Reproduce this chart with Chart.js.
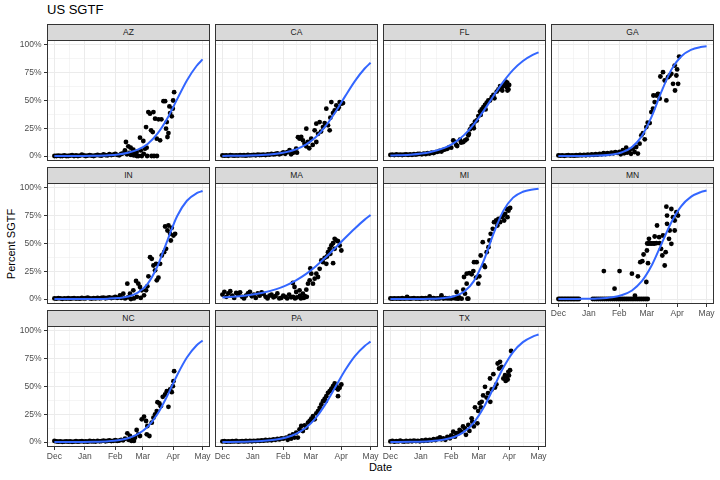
<!DOCTYPE html>
<html>
<head>
<meta charset="utf-8">
<script src="https://cdn.jsdelivr.net/npm/chart.js@4.4.4/dist/chart.umd.min.js"></script>
<style>
  html, body { margin: 0; padding: 0; background: #fff; }
  #fig { position: relative; width: 720px; height: 480px; overflow: hidden;
         font-family: "Liberation Sans", Arial, sans-serif; color: #000; }
  #fig canvas { position: absolute; }
  .strip { position: absolute; box-sizing: border-box; background: #d9d9d9;
           border: 1px solid #333; color: #1a1a1a; font-size: 8.5px;
           line-height: 15px; text-align: center; }
  #title { position: absolute; left: 47px; top: 2px; font-size: 13px; line-height: 15px; }
  #xlab { position: absolute; left: 330px; width: 101px; top: 461px; font-size: 11px;
          line-height: 13px; text-align: center; }
  #ylab { position: absolute; left: -49px; top: 237px; width: 120px; height: 14px;
          font-size: 11px; line-height: 14px; text-align: center; transform: rotate(-90deg); }
</style>
</head>
<body>
<div id="fig">
  <div id="title">US SGTF</div>
  <div id="ylab">Percent SGTF</div>
  <div id="xlab">Date</div>
</div>
<script>
/* ── Dados: dias desde 1 dez 2020, percentual SGTF ── */
const STATES = ['AZ', 'CA', 'FL', 'GA', 'IN', 'MA', 'MI', 'MN', 'NC', 'PA', 'TX'];
const MONTH_DAYS = [0, 31, 62, 90, 121, 151];
const MONTH_NAMES = ['Dec', 'Jan', 'Feb', 'Mar', 'Apr', 'May'];
const PCT_TICKS = [0, 25, 50, 75, 100];

/* dias onde a curva logística ajustada foi lida */
const CURVE_DAY = [0, 20, 40, 55, 65, 75, 85, 95, 105, 115, 125, 135, 145, 151];

const AZ_FIT = [0.01, 0.06, 0.24, 0.7, 1.4, 2.9, 5.7, 10.9, 20.1, 33.8, 51.0, 68.1, 81.3, 87.0];
const CA_FIT = [0.08, 0.26, 0.83, 2.0, 3.5, 6.0, 10.2, 16.9, 26.7, 39.4, 53.7, 67.5, 78.8, 84.0];
const FL_FIT = [0.4, 1.18, 3.4, 7.3, 11.9, 18.8, 28.5, 40.6, 54.0, 66.8, 77.6, 85.6, 91.1, 93.4];
const GA_FIT = [0.01, 0.06, 0.35, 1.4, 3.4, 8.0, 17.9, 35.4, 57.9, 77.6, 89.7, 95.6, 98.2, 98.9];
const IN_FIT = [0, 0.01, 0.08, 0.33, 0.86, 2.2, 5.7, 13.7, 29.5, 52.4, 74.5, 88.5, 95.3, 97.3];
const MA_FIT = [1.34, 2.7, 5.4, 8.9, 12.3, 16.8, 22.4, 29.3, 37.3, 46.0, 55.0, 63.6, 71.5, 75.6];
const MI_FIT = [0, 0.03, 0.21, 0.95, 2.5, 6.6, 16.1, 34.3, 58.7, 79.4, 91.3, 96.6, 98.7, 99.3];
const MN_FIT = [0.02, 0.09, 0.47, 1.6, 3.6, 7.7, 16.0, 30.1, 49.5, 68.9, 83.5, 92.0, 96.3, 97.7];
const NC_FIT = [0.01, 0.06, 0.26, 0.78, 1.6, 3.4, 7.0, 13.7, 25.2, 41.6, 60.1, 76.1, 87.1, 91.4];
const PA_FIT = [0.07, 0.24, 0.86, 2.2, 4.0, 7.3, 12.8, 21.6, 34.1, 49.3, 64.6, 77.4, 86.5, 90.4];
const TX_FIT = [0.04, 0.16, 0.72, 2.2, 4.5, 9.1, 17.5, 31.0, 48.7, 66.8, 81.0, 90.0, 95.0, 96.8];

/* leituras [dia, %] */
const AZ_PTS = [[0,0],[2,0],[4,0.3],[6,0],[8,0],[10,0.5],[12,0],[14,0],[16,0.3],[18,0.8],[20,0],[22,0.5],[24,0],[26,0.3],[28,1.2],[30,0.5],[32,0],[34,0.4],[36,0.8],[38,0.3],[40,0],[42,0.6],[44,1],[46,0.5],[48,0.3],[50,1.5],[52,0.8],[54,0.5],[56,1.6],[58,0.8],[60,1.2],[62,2],[64,1],[66,0.6],[68,1.8],[70,2.4],
  [71.9,5.1],[72.9,12.6],[74,1.5],[75.3,8.7],[76.3,2.7],[77.7,7.5],[78,1],[79,3],[80.4,5.7],[81,0.5],[82,2],[83.8,3.6],[84,0],[85.5,0],[87.2,16.5],[88,5],[89,0],[90.6,13.5],[91,2],[92.3,6.6],[93.4,26.1],[94,7.5],[94.5,0],[95.7,39.6],[97.4,38.1],[98.5,23.1],[99,0],[100.2,21.6],[100.9,39.6],[101.5,0],[102.6,33.6],[104.3,15.6],[104.5,0],[106,33],[107.7,14.1],[109,33],[111.1,49.4],[112.8,49.4],[113.8,24.6],[114.5,30.6],[115.2,17.1],[116.2,20.7],[117.2,44.7],[117.9,38.7],[119.6,35.7],[120.6,42.6],[121,50],[122,57.5]];
const CA_PTS = [[0,0.5],[2,0.3],[4,0.5],[6,0.2],[8,0.8],[10,0.5],[12,0.3],[14,0.6],[16,0.4],[18,0.8],[20,0.5],[22,0.7],[24,0.3],[26,0.9],[28,0.6],[30,0.8],[32,1],[34,0.7],[36,1.2],[38,0.9],[40,1],[42,1.3],[44,0.8],[46,1.5],[48,1.2],[50,2],[52,1.4],[54,1.8],[56,2.4],[58,1.5],[60,2.2],[62,3.2],[64,2],[66,3.5],
  [68.4,5.2],[70,1.5],[71.8,2.8],[73,4],[75.2,6.7],[76,3],[77,17],[78.6,15.6],[80.3,17.1],[82,14.1],[83.7,11.1],[85.4,8.7],[85.5,24.6],[87.1,12.6],[88.5,7],[90.5,15.6],[92,10],[94,23.1],[95.7,12.6],[95.7,29.1],[97.5,20],[99.1,30.6],[100.5,22],[102.5,26.1],[104.2,29.7],[105.9,42.6],[107.6,27.6],[109.3,23.1],[110,34.5],[111,48.6],[112.7,38.7],[114.4,41.1],[116.1,45.6],[117.8,42.6],[118.5,44],[119.5,48.6],[121.2,47.1],[122.9,47.7]];
const FL_PTS = [[0,1],[2,1.2],[4,0.8],[6,1.5],[8,1],[10,1.3],[12,0.9],[14,1.2],[16,1.5],[18,1],[20,1.4],[22,1.1],[24,1.6],[26,1.3],[28,1.8],[30,2],[32,1.5],[34,2.2],[36,1.8],[38,2.5],[40,2.2],[42,3],[44,2.6],[46,3.5],[48,3.8],[50,4.5],[52,4],[54,5.5],[56,6],[58,6.5],[60,8],[62,7.5],
  [64,14],[65.8,12.6],[67,10],[68,9],[70.9,14.7],[72,12],[74.3,12.6],[76,14],[77.7,15],[79.4,18.6],[80,20],[81.1,24],[82.8,27],[84.5,28],[85,25],[86.2,31],[88,32],[89.6,36],[91.3,40],[92,37],[93,42],[94.7,44],[96.4,46],[97,42],[98.1,48],[99.8,50],[101.5,50],[103.3,53],[105,55],[106,52],[108.4,58],[110.1,60],[111.8,63],[113.5,62],[114,59],[115.2,63],[116.9,65],[117.5,67],[118.6,62],[119,66],[119.3,59],[120.3,60],[121,64]];
const GA_PTS = [[0,0.5],[2,0.3],[4,0.6],[6,0.2],[8,0.5],[10,0.8],[12,0.4],[14,0.6],[16,0.3],[18,0.7],[20,0.5],[22,0.9],[24,0.6],[26,1],[28,0.7],[30,1.2],[32,0.8],[34,1.4],[36,1],[38,1.6],[40,1.2],[42,2],[44,1.5],[46,2.5],[48,1.8],[50,2.6],[52,2],[54,3],[56,2.5],[58,3.5],[60,2.8],
  [62.3,3.6],[63.5,1.5],[65.7,5.2],[67,2.5],[69.1,7.5],[70,3],[72.5,5.2],[74,2],[75.9,6.7],[77.6,3.6],[79.3,8.1],[81,2.2],[82.7,11.1],[84.5,18.6],[86.2,20.7],[88,15],[89.6,26.1],[91,30],[93,29.7],[94.7,39.6],[96.4,42.6],[96.8,54.5],[98.1,48.6],[99.8,54.5],[101.5,56],[103.2,51.6],[103.9,71.6],[106.6,75.5],[108.3,68],[110,50.1],[111.7,71],[113.4,72.5],[115.1,74],[116.8,65],[118.5,81.5],[118.8,59],[120.2,72.5],[121,78],[122,65],[123,89.6]];
const IN_PTS = [[0,0.5],[2,0.3],[4,0.8],[6,0.5],[8,0.2],[10,0.6],[12,0.4],[14,0.7],[16,0.3],[18,0.5],[20,0.8],[22,0.4],[24,0.6],[26,0.3],[28,0.9],[30,0.5],[32,0.7],[34,1.2],[36,0.6],[38,0.4],[40,0.8],[42,0.5],[44,1],[46,0.6],[48,0.9],[50,1.3],[52,0.7],[54,1],[56,1.5],[58,0.8],[60,1.2],[62,1.8],[64,1],
  [66.8,3.3],[68,1],[70.2,4.8],[72,0.5],[74.3,13.8],[75,1.5],[77,4.8],[78,0],[80.4,7.8],[81,0.5],[83.2,16.2],[84,2],[85.5,13.8],[87.2,10.8],[88,1],[89,7.8],[91.3,3.3],[93.4,7.8],[94.7,11.4],[95.8,20.4],[97.5,37.7],[99.2,36.2],[100.9,30.2],[102.6,25.8],[103.6,31.7],[104.3,16.8],[106,19.2],[107.7,31.7],[109.4,39.2],[111.8,42.2],[112.8,65.3],[113.8,45.2],[115.2,61.7],[116.2,66.2],[117.9,58.7],[118.6,52.7],[119.6,64.1],[121.3,57.2],[123,58.7]];
const MA_PTS = [[0,4],[2,6.5],[4,2],[6,5],[8,7],[10,3],[12,1],[14,5.5],[16,4],[18,6],[20,2],[22,0.5],[24,3],[26,5],[28,6.5],[30,2.5],[32,4],[34,1],[36,5],[38,3],[40,6],[42,4.5],[44,2],[46,0.5],[48,3],[50,4],[52,1.5],[54,2.5],[56,5],[58,0.5],[60,1],[62,3],[64,2],[66,0.5],[68,4],[70,1.5],
  [71.8,14.4],[72,2],[73.5,10.8],[74,0.5],[75.2,6.3],[76,1.5],[78.6,7.8],[79,3],[80,0.5],[82,4.8],[83,1],[84,2.5],[85.5,8.4],[86,2],[87.2,13.8],[88.9,16.8],[89.6,27.5],[90.6,22.8],[92.3,13.8],[94,18.3],[95.7,22.8],[97.4,19.8],[99.1,27.2],[100.8,34.7],[102.5,33.2],[104.2,37.1],[105.9,31.7],[106.6,38.3],[107.6,42.2],[109.3,45.2],[110,40.7],[111,48.2],[112.7,50.3],[112.8,32.3],[114.4,54.2],[114.4,45.2],[116.1,52.7],[117.8,52.1],[119.5,48.2],[121.2,43.7]];
const MI_PTS = [[0,0.5],[2,0.3],[4,0.6],[6,0.4],[8,0.5],[10,0.3],[12,0.7],[14,0.4],[16,0.5],[17,2],[18,0.6],[20,0.3],[22,0.5],[24,0.8],[26,0.4],[28,0.6],[30,0.3],[32,0.7],[34,0.5],[36,0.8],[38,0.4],
  [40,2.4],[42,0.5],[44,0.8],[46,0.4],[48,0.6],[50,0.5],[52,3.3],[54,0.4],[56,0.8],[58,0.5],[60,0.7],[62,0.4],[64,1],[66,0.5],[67.5,6.3],[68,0.5],[69.2,0.3],[70,1.5],[72.6,0.3],[74.3,8.4],[75,19.8],[76,4.8],[77.7,13.8],[77.7,22.8],[78.5,0.3],[79.4,0.3],[80.4,23.4],[82.8,22.2],[84.5,25.2],[85.2,33.2],[87.2,19.2],[87.9,33.2],[89.6,13.8],[90.6,20.4],[92,39.2],[94.1,51.2],[95.4,30.2],[96.4,28.8],[98.1,42.2],[99.9,46.7],[100.9,52.7],[102.2,58.7],[104.3,63.2],[105.6,69.2],[107.7,70.7],[109,66.2],[110.1,72.2],[111.8,69.2],[113.5,73.7],[115.2,75.2],[115.9,70.7],[116.9,76.7],[118.6,81.1],[119.3,73.7],[120.3,79.6],[122,82]];
const MN_PTS = [[0,0],[1.5,0],[3,0],[4.5,0],[6,0],[7.5,0],[9,0],[10.5,0],[12,0],[13.5,0],[15,0],[16.5,0],[18,0],[19.5,0],[21,0],
  [35,0],[37,0],[39,0],[41,0],[43,0],[45,0],[47,0],[49,0],[51,0],[53,0],[55,0],[57,0],[59,0],[61,0],[63,0],[65,0],[67,0],[69,0],[71,0],[73,0],[75,0],[77,0],[79,0],[81,0],[83,0],[85,0],[87,0],[89,0],[91,0],
  [46.3,25.2],[57.2,9.3],[62.3,25.2],[74.9,22.8],[78,3],[81,20.4],[83.4,33.2],[85.5,34.1],[86.8,40.1],[89.6,15.3],[90.2,43.7],[90.5,50],[91.3,32.3],[92,50],[92.3,54.2],[93.5,50],[95,50],[96.5,50],[98,50],[98.1,56.3],[99.8,50.3],[100.5,66.2],[102.6,55.7],[103.2,50.3],[104.6,45.2],[105.9,39.2],[106.6,57.2],[108.3,30.2],[109.3,42.2],[110,83.2],[110.7,75.2],[110.7,67.7],[112.7,54.2],[113.4,61.7],[115.1,81.1],[115.1,49.7],[116.8,73.7],[118.5,70.7],[118.5,61.7],[120.2,78.2],[121.9,75.2]];
const NC_PTS = [[0,1],[2,0.5],[4,0.3],[6,0.5],[8,0.2],[10,0.4],[12,0.6],[14,0.3],[16,0.5],[18,0.2],[20,0.4],[22,0.7],[24,0.3],[26,0.5],[28,0.8],[30,0.4],[32,0.6],[34,0.3],[36,0.9],[38,0.5],[40,0.7],[42,0.4],[44,1],[46,0.6],[48,0.8],[50,1.2],[52,0.7],[54,1],[56,1.4],[58,0.8],[60,1.1],[62,1.6],[64,1],[66,1.3],[68,2],[70,1.5],[72,3],
  [74.3,7.8],[75.5,2],[77,5.4],[78.5,1],[79.8,2.4],[81,1],[82.1,3.9],[83.8,10.8],[85.5,6.9],[87.2,5.4],[89,20.4],[91.3,22.8],[93.4,18.9],[94.1,6.9],[94.7,14.4],[96.8,5.4],[99.2,17.4],[100.9,21.9],[102.6,24.9],[104.3,27.9],[105,35.9],[107,34.7],[108.4,32.3],[110.4,40.7],[112.8,42.8],[114.5,45.8],[116.2,31.7],[117.9,47.3],[119.6,44.9],[120.7,50.3],[121.3,54.8],[122,63.8]];
const PA_PTS = [[0,0.5],[2,0.8],[4,0.3],[6,0.6],[8,0.4],[10,0.7],[12,0.5],[14,0.9],[16,0.4],[18,0.6],[20,0.8],[22,0.5],[24,0.9],[26,0.6],[28,1],[30,0.7],[32,1.1],[34,0.8],[36,1.3],[38,1],[40,1.5],[42,1.2],[44,1.8],[46,1.4],[48,2],[50,1.6],[52,2.4],[54,2],[56,2.8],[58,2.3],[60,3.2],[62,3],
  [65,4],[66.5,2],[68.4,5.4],[70,3],[71.8,6.9],[73.5,4],[75.2,8.4],[76.9,4],[78.6,11.4],[80.3,14.4],[82,9.9],[83.8,15],[85.5,12.9],[87.2,17.4],[88.9,18.9],[90.6,21],[92.3,23.4],[94,20.4],[95.7,25.8],[97.4,27.9],[99.1,30.8],[100.8,33.8],[102.5,36.8],[104.2,38.9],[105.2,36.8],[105.9,41.3],[107.6,44.3],[109.3,45.8],[111,47.9],[112.7,50.3],[114.4,52.7],[115.4,48.8],[116.1,50.9],[117.8,47.3],[117.8,41.3],[119.5,48.8],[121.2,51.8]];
const TX_PTS = [[0,0.5],[2,1],[4,0.3],[6,0.8],[8,0.5],[10,1.2],[12,0.6],[14,0.4],[16,0.9],[18,0.5],[20,1],[22,0.7],[24,1.3],[26,0.8],[28,1.1],[30,0.6],[32,1.5],[34,1],[36,1.8],[38,1.2],[40,2],[42,1.5],[44,2.5],[46,1.8],
  [48,3],[50.5,4.2],[52,2.5],[53.9,3.3],[56,2],[58,4.5],[60.7,3.3],[62,6],[64,9.3],[65.8,4.8],[67,8],[69.2,7.8],[70.5,11],[72.6,9.3],[74,14],[76,12.3],[77,6.5],[79.4,15.3],[80.5,10],[82.8,21.3],[83.4,18.3],[85,14],[86.2,31.2],[88.6,16.8],[89.5,28],[91,35],[92.3,31.2],[93,36.2],[94.5,42],[96.4,49.7],[98,40],[99.5,44],[101.5,57.2],[101.8,36.2],[103.2,47.3],[104.9,61.1],[106.6,49.1],[108,52],[109.3,70.7],[110.7,66.2],[111.7,72.2],[113.4,67.7],[115.1,57.2],[116.8,60.2],[117.5,55],[118.5,58.7],[119.5,56.3],[120.2,63.2],[120.8,60],[121.9,64.7],[123,82]];

const PANELS = {
  AZ: [AZ_PTS, AZ_FIT], CA: [CA_PTS, CA_FIT], FL: [FL_PTS, FL_FIT], GA: [GA_PTS, GA_FIT],
  IN: [IN_PTS, IN_FIT], MA: [MA_PTS, MA_FIT], MI: [MI_PTS, MI_FIT], MN: [MN_PTS, MN_FIT],
  NC: [NC_PTS, NC_FIT], PA: [PA_PTS, PA_FIT], TX: [TX_PTS, TX_FIT]
};

/* ── Layout dos painéis (px) ── */
const COL_X = [47, 215, 383, 551];
const ROW_Y = [40, 183, 326];
const PW = 163, PH = 121, STRIP_H = 16;

Chart.defaults.font.family = '"Liberation Sans", Arial, sans-serif';
Chart.defaults.font.size = 8.5;

/* linhas secundárias da grade: pontos médios entre as principais */
const mids = a => a.slice(1).map((v, i) => (v + a[i]) / 2);
const X_MINOR = mids(MONTH_DAYS);
const Y_MINOR = mids(PCT_TICKS);

function tickList(major, minor) {
  return major.map(v => ({ value: v }))
    .concat(minor.map(v => ({ value: v, minor: true })))
    .sort((a, b) => a.value - b.value);
}

const gridOpts = (drawTicks) => ({
  color: '#ebebeb',
  lineWidth: c => (c.tick && c.tick.minor) ? 0.5 : 1,
  drawTicks: drawTicks,
  tickLength: 3,
  tickWidth: 1,
  tickColor: c => (c.tick && c.tick.minor) ? 'rgba(0,0,0,0)' : '#333'
});

/* borda do painel (theme_bw) */
const panelBorder = {
  id: 'panelBorder',
  afterDraw(chart) {
    const a = chart.chartArea, ctx = chart.ctx;
    ctx.save();
    ctx.strokeStyle = '#333';
    ctx.lineWidth = 1;
    ctx.strokeRect(a.left + 0.5, a.top + 0.5, a.right - a.left - 1, a.bottom - a.top - 1);
    ctx.restore();
  }
};

const fig = document.getElementById('fig');

STATES.forEach(function (state, idx) {
  const r = Math.floor(idx / 4), c = idx % 4;
  const showY = c === 0;
  const showX = r === 2 || (r === 1 && c === 3);
  const padL = showY ? COL_X[0] : 0;
  const padR = showX ? 10 : 0;
  const padB = showX ? 16 : 0;

  const strip = document.createElement('div');
  strip.className = 'strip';
  strip.style.left = COL_X[c] + 'px';
  strip.style.top = (ROW_Y[r] - STRIP_H) + 'px';
  strip.style.width = PW + 'px';
  strip.style.height = (STRIP_H + 1) + 'px';
  strip.textContent = state;
  fig.appendChild(strip);

  const cv = document.createElement('canvas');
  const w = padL + PW + padR, h = PH + padB;
  cv.width = w; cv.height = h;
  cv.style.left = (COL_X[c] - padL) + 'px';
  cv.style.top = ROW_Y[r] + 'px';
  cv.style.width = w + 'px';
  cv.style.height = h + 'px';
  fig.appendChild(cv);

  const pts = PANELS[state][0], fit = PANELS[state][1];

  new Chart(cv.getContext('2d'), {
    type: 'scatter',
    data: {
      datasets: [
        {
          type: 'line',
          data: CURVE_DAY.map((d, i) => ({ x: d, y: fit[i] })),
          borderColor: '#3366ff',
          borderWidth: 2,
          pointRadius: 0,
          fill: false,
          cubicInterpolationMode: 'monotone'
        },
        {
          data: pts.map(p => ({ x: p[0], y: p[1] })),
          pointRadius: 2.4,
          pointBackgroundColor: '#000',
          pointBorderWidth: 0,
          borderWidth: 0
        }
      ]
    },
    options: {
      responsive: false,
      animation: false,
      events: [],
      layout: { autoPadding: false, padding: { left: 0, top: 0, bottom: 0, right: padR } },
      plugins: { legend: { display: false }, tooltip: { enabled: false } },
      scales: {
        x: {
          type: 'linear', min: -7.55, max: 158.55, bounds: 'data',
          afterBuildTicks: s => { s.ticks = tickList(MONTH_DAYS, X_MINOR); },
          afterFit: s => { s.height = padB; s.paddingLeft = 0; s.paddingRight = 0; },
          grid: gridOpts(showX),
          border: { display: false },
          ticks: {
            display: showX, autoSkip: false, maxRotation: 0, minRotation: 0,
            padding: 2, color: '#4d4d4d',
            callback: (v, i, t) => t[i].minor ? '' : MONTH_NAMES[MONTH_DAYS.indexOf(v)]
          }
        },
        y: {
          type: 'linear', min: -4.5, max: 104.5, bounds: 'data',
          afterBuildTicks: s => { s.ticks = tickList(PCT_TICKS, Y_MINOR); },
          afterFit: s => { s.width = padL; s.paddingTop = 0; s.paddingBottom = 0; },
          grid: gridOpts(showY),
          border: { display: false },
          ticks: {
            display: showY, autoSkip: false, padding: 2.5, color: '#4d4d4d',
            callback: (v, i, t) => t[i].minor ? '' : v + '%'
          }
        }
      }
    },
    plugins: [panelBorder]
  });
});
</script>
</body>
</html>
